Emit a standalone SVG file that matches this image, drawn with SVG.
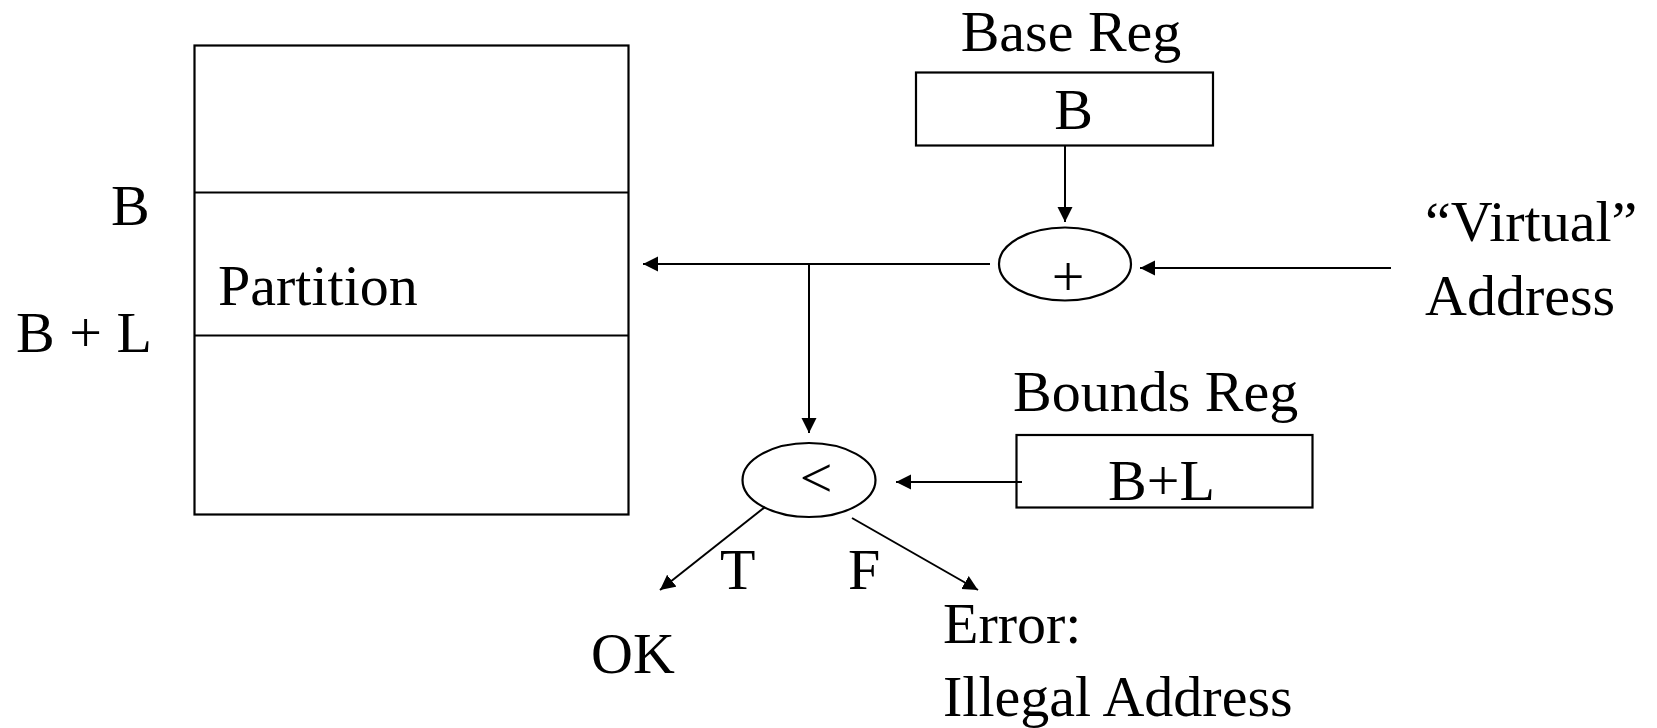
<svg xmlns="http://www.w3.org/2000/svg" width="1657" height="728" viewBox="0 0 1657 728">
<style>
text { font-family: "Liberation Serif", "Times New Roman", serif; font-size: 58px; fill: #000; }
.box { fill: #fff; stroke: #000; stroke-width: 2.2; }
.ln { fill: none; stroke: #000; stroke-width: 2; }
.arr { fill: none; stroke: #000; stroke-width: 2; marker-end: url(#ah); }
</style>
<defs>
<marker id="ah" markerUnits="userSpaceOnUse" markerWidth="16" markerHeight="16" refX="15" refY="7.5" orient="auto">
<path d="M0,0 L15,7.5 L0,15 z" fill="#000"/>
</marker>
</defs>
<rect width="1657" height="728" fill="#fff"/>

<g id="memory">
<rect class="box" x="194.5" y="45.5" width="434" height="469"/>
<line class="ln" x1="194.5" y1="192.5" x2="628.5" y2="192.5"/>
<line class="ln" x1="194.5" y1="335.5" x2="628.5" y2="335.5"/>
<text x="218" y="305">Partition</text>
<text x="111" y="225">B</text>
<text x="16" y="352">B + L</text>
</g>

<g id="base-reg">
<text x="1071" y="51" text-anchor="middle">Base Reg</text>
<rect class="box" x="916" y="72.5" width="297" height="73"/>
<text x="1073.5" y="129" text-anchor="middle">B</text>
</g>

<g id="adder">
<ellipse class="box" cx="1065" cy="264" rx="66" ry="36.5"/>
<text x="1068" y="296" text-anchor="middle">+</text>
</g>

<g id="virtual-address">
<text x="1425" y="241">“Virtual”</text>
<text x="1425" y="315">Address</text>
</g>

<g id="bounds-reg">
<text x="1013" y="411">Bounds Reg</text>
<rect class="box" x="1016.5" y="435" width="296" height="72.5"/>
<text x="1161.5" y="500" text-anchor="middle">B+L</text>
</g>

<g id="comparator">
<ellipse class="box" cx="809" cy="480" rx="66.5" ry="37"/>
<text x="816" y="497" text-anchor="middle">&lt;</text>
</g>

<g id="ok">
<text x="591" y="673">OK</text>
</g>

<g id="error">
<text x="943" y="643">Error:</text>
<text x="943" y="716">Illegal Address</text>
</g>

<g id="connectors">
<line class="arr" x1="1065" y1="146" x2="1065" y2="222"/>
<line class="arr" x1="1391" y1="268" x2="1140" y2="268"/>
<line class="arr" x1="990" y1="264" x2="643" y2="264"/>
<line class="arr" x1="809" y1="264" x2="809" y2="433"/>
<line class="arr" x1="1022" y1="482" x2="896" y2="482"/>
<line class="arr" x1="765" y1="507" x2="660" y2="590"/>
<line class="arr" x1="852" y1="518" x2="978" y2="590"/>
<text x="720" y="589">T</text>
<text x="848" y="589">F</text>
</g>
</svg>
